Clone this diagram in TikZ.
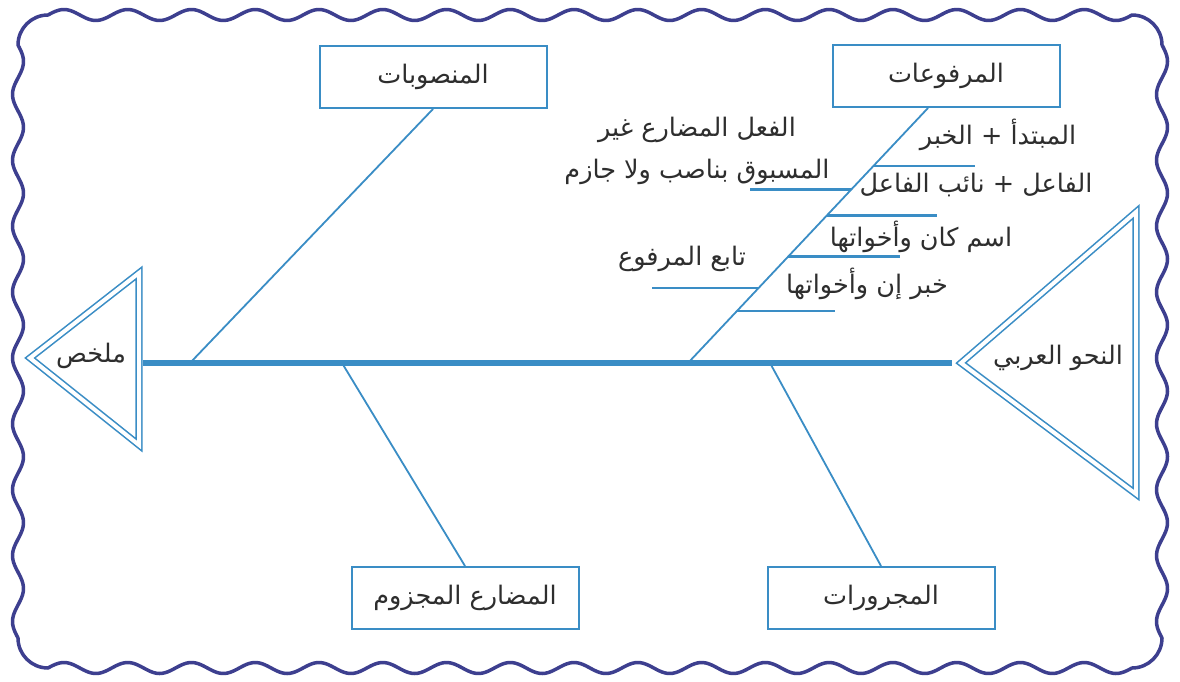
\documentclass[tikz,border=0pt]{standalone}
\usepackage{fontspec}
\newfontfamily\arabicfont[Script=Arabic]{DejaVu Sans}
\TeXXeTstate=1
\definecolor{lineblue}{HTML}{3A8DC5}
\definecolor{framenavy}{HTML}{3D3F8F}
\definecolor{inkgray}{HTML}{2E2E2E}
\newcommand{\artxt}[1]{\beginR #1\endR}
\tikzset{
  frameline/.style={framenavy, line width=3.5pt, line join=round},
  bone/.style={lineblue, line width=1.8pt},
  ribline/.style={lineblue, line width=2.4pt},
  lbl/.style={text=inkgray, font=\arabicfont\fontsize{25.5}{30}\selectfont, inner sep=0pt},
  catbox/.style={lbl, draw=lineblue, line width=2pt, minimum width=227pt, minimum height=62pt},
  headtri/.style={lineblue, line width=1.6pt, double=white, double distance=4pt, line join=miter},
}
\begin{document}
\begin{tikzpicture}[x=1pt,y=-1pt]
\useasboundingbox (0,0) rectangle (1180,682);
\fill[white] (0,0) rectangle (1180,682);
\draw[frameline]
  plot[variable=\t, domain=48:1132, samples=400, smooth] (\t, {15-5.5*sin((\t-48)/63.765*360)})
  arc[start angle=-90, end angle=0, radius=30]
  -- plot[variable=\t, domain=45:638, samples=220, smooth] ({1162+5.5*sin((\t-45)/65.889*360)}, \t)
  arc[start angle=0, end angle=90, radius=30]
  -- plot[variable=\t, domain=1132:48, samples=400, smooth] (\t, {668+5.5*sin((1132-\t)/63.765*360)})
  arc[start angle=90, end angle=180, radius=30]
  -- plot[variable=\t, domain=638:45, samples=220, smooth] ({18-5.5*sin((638-\t)/65.889*360)}, \t)
  arc[start angle=180, end angle=270, radius=30] -- cycle;
\path
(30,358) coordinate (tailtip) (139,273) coordinate (tailtop) (139,445) coordinate (tailbot)
(961,363) coordinate (headtip) (1136,212) coordinate (headtop) (1136,494) coordinate (headbot)
(143,363) coordinate (spineL) (952,363) coordinate (spineR)
(190,363) coordinate (s1) (342,363) coordinate (s2) (688,363) coordinate (s3) (770,363) coordinate (s4)
;
\draw[headtri] (tailtip) -- (tailtop) -- (tailbot) -- cycle;
\draw[headtri] (headtip) -- (headtop) -- (headbot) -- cycle;
\node[lbl] (summary) at (91,356) {\artxt{ملخص}};
\node[lbl] (nahw) at (1058,358) {\artxt{النحو العربي}};
\node[catbox] (nasb) at (433,77) {\artxt{المنصوبات}};
\node[catbox] (rafa) at (946,76) {\artxt{المرفوعات}};
\node[catbox] (jazm) at (465,598) {\artxt{المضارع المجزوم}};
\node[catbox] (jarr) at (881,598) {\artxt{المجرورات}};
\draw[bone] (nasb.south) -- (s1);
\draw[bone] (s2) -- (jazm.north);
\draw[bone] (s4) -- (jarr.north);
\draw[bone] ([xshift=-18pt]rafa.south) -- (s3)
  coordinate[pos=.227] (r1) coordinate[pos=.32] (r2) coordinate[pos=.422] (r3)
  coordinate[pos=.582] (r4) coordinate[pos=.707] (r5) coordinate[pos=.797] (r6);
\foreach \n/\len in {1/101,2/-101,3/110,4/112,5/-106,6/98}
  \draw[ribline] (r\n) -- ++(\len,0) coordinate (r\n end);
\draw[lineblue, line width=6pt] (spineL) -- (spineR);
\node[lbl] (mubt) at (998,135) {\artxt{المبتدأ + الخبر}};
\node[lbl] (fail) at (976,185) {\artxt{الفاعل + نائب الفاعل}};
\node[lbl] (kana) at (921,237) {\artxt{اسم كان وأخواتها}};
\node[lbl] (inna) at (867,284) {\artxt{خبر إن وأخواتها}};
\node[lbl] (tabi) at (682,259) {\artxt{تابع المرفوع}};
\node[lbl, align=center, font=\arabicfont\fontsize{25.5}{42}\selectfont] (mudr) at (697,151)
  {\artxt{الفعل المضارع غير}\\\artxt{المسبوق بناصب ولا جازم}};
\end{tikzpicture}
\end{document}
